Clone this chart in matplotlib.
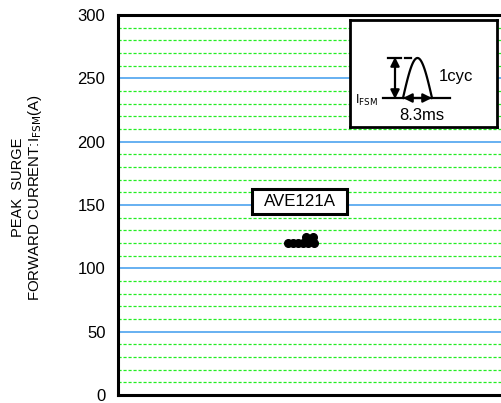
import matplotlib
matplotlib.use("Agg")
import matplotlib.pyplot as plt
import numpy as np
from matplotlib.patches import Rectangle

plt.rcParams['font.family'] = ['Liberation Sans', 'DejaVu Sans']

# ---- data ----
sample_x = [1, 2, 3, 4, 5, 6, 4.6, 5.8]
ifsm_values = [120, 120, 120, 120, 120, 120, 125, 125]
y_ticks = [0, 50, 100, 150, 200, 250, 300]
y_tick_labels = ["0", "50", "100", "150", "200", "250", "300"]
device_label = "AVE121A"

W, H = 502, 403
fig = plt.figure(figsize=(W / 100, H / 100), dpi=100)

def px_ax(l, t, r, b):
    return [l / W, 1 - b / H, (r - l) / W, (b - t) / H]

ax = fig.add_axes(px_ax(118, 15, 503, 395))
ax.set_ylim(0, 300)
ax.set_xlim(-33, 43.8)

# grid
for v in np.arange(10, 300, 10):
    if v % 50 == 0:
        ax.axhline(v, color="#5aaaf0", lw=1.3, zorder=1)
    else:
        ax.axhline(v, color="#22ee22", lw=0.9, ls=(0, (2.5, 1.5)), zorder=1)

ax.plot(sample_x, ifsm_values, 'o', color='black', markersize=5.5, zorder=5)

ax.set_yticks(y_ticks)
ax.set_yticklabels(y_tick_labels, fontsize=12)
ax.set_xticks([])
ax.tick_params(axis='y', length=0, pad=9)
for s in ['left', 'top', 'bottom']:
    ax.spines[s].set_linewidth(2.2)
    ax.spines[s].set_color('black')
ax.spines['right'].set_visible(False)

# device label box
ax.add_patch(Rectangle(((252 - 118) / 384, (395 - 214) / 380), 94 / 384, 25 / 380,
                       transform=ax.transAxes, facecolor='white', edgecolor='black',
                       lw=2.2, zorder=6))
ax.text((299 - 118) / 384, (395 - 201.5) / 380, device_label, transform=ax.transAxes,
        ha='center', va='center', fontsize=12.2, zorder=7)

# y-axis label
fig.text(18 / W, 1 - 187 / H, "PEAK  SURGE", rotation=90, ha='center', va='center', fontsize=10.5)
fig.text(35 / W, 1 - 198 / H, "FORWARD CURRENT:I$_{\\mathrm{FSM}}$(A)", rotation=90,
         ha='center', va='center', fontsize=10.8)

# inset waveform box
ia = fig.add_axes(px_ax(350, 20, 497, 127))
ia.set_xlim(350, 497)
ia.set_ylim(127, 20)
ia.set_xticks([])
ia.set_yticks([])
for s in ia.spines.values():
    s.set_linewidth(2)
ia.set_zorder(10)
ia.patch.set_facecolor('white')

t = np.linspace(0, 1, 100)
ia.plot(403 + 29 * t, 98 - 40 * np.sin(np.pi * t), color='black', lw=1.6)
ia.plot([383, 450], [98, 98], color='black', lw=1.6)
ia.plot([388, 401], [58, 58], color='black', lw=1.6)
ia.plot([405, 411], [58, 58], color='black', lw=1.6)
ia.annotate("", xy=(395, 57), xytext=(395, 99),
            arrowprops=dict(arrowstyle='<|-|>', color='black', lw=1.6,
                            mutation_scale=13, shrinkA=0, shrinkB=0))
ia.annotate("", xy=(403, 98), xytext=(432, 98),
            arrowprops=dict(arrowstyle='<|-|>', color='black', lw=1.6,
                            mutation_scale=13, shrinkA=0, shrinkB=0))
ia.text(366, 100, "I$_{\\mathrm{FSM}}$", ha='center', va='center', fontsize=9)
ia.text(456, 77, "1cyc", ha='center', va='center', fontsize=12)
ia.text(422, 115, "8.3ms", ha='center', va='center', fontsize=12)

fig.savefig("out.png", dpi=100)
